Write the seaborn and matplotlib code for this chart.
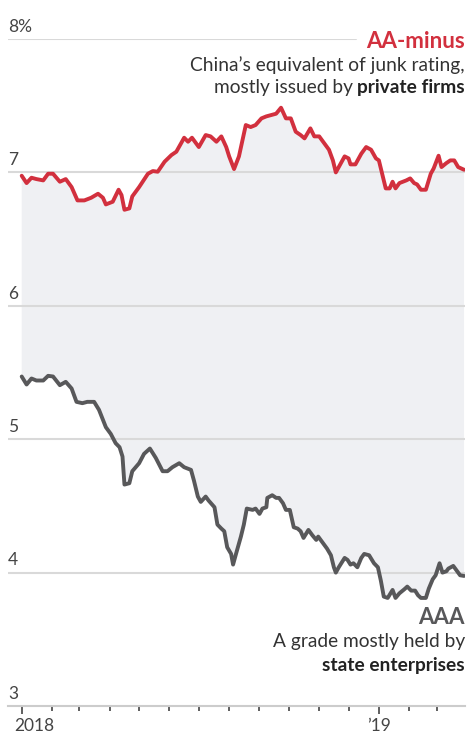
import matplotlib
matplotlib.use("Agg")
import matplotlib.pyplot as plt
import matplotlib.dates as mdates
import matplotlib.transforms as mtransforms
import numpy as np
import pandas as pd
import seaborn as sns

# ---------------- data ----------------
aa_dates = [
    "2018-01-01", "2018-01-06", "2018-01-11", "2018-01-16", "2018-01-23", "2018-01-28",
    "2018-02-02", "2018-02-09", "2018-02-15", "2018-02-21", "2018-02-27", "2018-03-06",
    "2018-03-13", "2018-03-20", "2018-03-25", "2018-03-28", "2018-04-04", "2018-04-10",
    "2018-04-13", "2018-04-16", "2018-04-21", "2018-04-24", "2018-05-01", "2018-05-10",
    "2018-05-15", "2018-05-20", "2018-05-27", "2018-06-03", "2018-06-08", "2018-06-13",
    "2018-06-16", "2018-06-20", "2018-06-24", "2018-07-01", "2018-07-08", "2018-07-13",
    "2018-07-19", "2018-07-24", "2018-07-29", "2018-08-01", "2018-08-06", "2018-08-11",
    "2018-08-18", "2018-08-23", "2018-08-28", "2018-09-03", "2018-09-08", "2018-09-13",
    "2018-09-18", "2018-09-23", "2018-09-28", "2018-10-03", "2018-10-08", "2018-10-13",
    "2018-10-17", "2018-10-23", "2018-10-27", "2018-11-01", "2018-11-06", "2018-11-11",
    "2018-11-15", "2018-11-18", "2018-11-21", "2018-11-27", "2018-12-01", "2018-12-03",
    "2018-12-08", "2018-12-14", "2018-12-19", "2018-12-24", "2018-12-29", "2019-01-01",
    "2019-01-05", "2019-01-08", "2019-01-12", "2019-01-15", "2019-01-18", "2019-01-22",
    "2019-01-29", "2019-02-02", "2019-02-06", "2019-02-09", "2019-02-13", "2019-02-18",
    "2019-02-23", "2019-02-26", "2019-03-03", "2019-03-06", "2019-03-11", "2019-03-15",
    "2019-03-19", "2019-03-23", "2019-03-29",
]
aa_minus = [
    6.975, 6.92, 6.96, 6.95, 6.94, 6.99,
    6.99, 6.93, 6.95, 6.89, 6.79, 6.79,
    6.81, 6.84, 6.81, 6.76, 6.78, 6.87,
    6.83, 6.72, 6.73, 6.82, 6.89, 6.99,
    7.01, 7.005, 7.08, 7.13, 7.155, 7.22,
    7.26, 7.23, 7.26, 7.19, 7.28, 7.27,
    7.23, 7.27, 7.19, 7.12, 7.025, 7.12,
    7.355, 7.34, 7.355, 7.405, 7.42, 7.43,
    7.44, 7.485, 7.405, 7.405, 7.305, 7.28,
    7.255, 7.33, 7.27, 7.27, 7.22, 7.17,
    7.09, 7.00, 7.04, 7.12, 7.105, 7.06,
    7.06, 7.14, 7.19, 7.17, 7.105, 7.09,
    6.97, 6.88, 6.88, 6.93, 6.88, 6.92,
    6.94, 6.955, 6.92, 6.91, 6.87, 6.87,
    6.99, 7.03, 7.125, 7.04, 7.07, 7.09,
    7.09, 7.04, 7.02,
]

aaa_dates = [
    "2018-01-01", "2018-01-06", "2018-01-11", "2018-01-16", "2018-01-23", "2018-01-28",
    "2018-02-02", "2018-02-09", "2018-02-15", "2018-02-21", "2018-02-26", "2018-03-04",
    "2018-03-09", "2018-03-16", "2018-03-21", "2018-03-28", "2018-04-02", "2018-04-07",
    "2018-04-11", "2018-04-14", "2018-04-16", "2018-04-21", "2018-04-24", "2018-05-01",
    "2018-05-06", "2018-05-12", "2018-05-18", "2018-05-25", "2018-05-30", "2018-06-04",
    "2018-06-11", "2018-06-16", "2018-06-23", "2018-06-26", "2018-06-30", "2018-07-03",
    "2018-07-08", "2018-07-11", "2018-07-17", "2018-07-20", "2018-07-24", "2018-07-27",
    "2018-07-30", "2018-08-03", "2018-08-05", "2018-08-08", "2018-08-13", "2018-08-16",
    "2018-08-19", "2018-08-25", "2018-08-28", "2018-09-01", "2018-09-04", "2018-09-08",
    "2018-09-09", "2018-09-14", "2018-09-18", "2018-09-21", "2018-09-25", "2018-09-28",
    "2018-10-02", "2018-10-06", "2018-10-10", "2018-10-13", "2018-10-16", "2018-10-21",
    "2018-10-25", "2018-10-29", "2018-10-31", "2018-11-04", "2018-11-09", "2018-11-13",
    "2018-11-16", "2018-11-18", "2018-11-21", "2018-11-27", "2018-11-30", "2018-12-03",
    "2018-12-06", "2018-12-10", "2018-12-14", "2018-12-17", "2018-12-22", "2018-12-27",
    "2018-12-31", "2019-01-03", "2019-01-06", "2019-01-10", "2019-01-15", "2019-01-18",
    "2019-01-22", "2019-01-27", "2019-01-30", "2019-02-03", "2019-02-07", "2019-02-10",
    "2019-02-13", "2019-02-18", "2019-02-21", "2019-02-25", "2019-02-28", "2019-03-04",
    "2019-03-07", "2019-03-11", "2019-03-13", "2019-03-18", "2019-03-21", "2019-03-25",
    "2019-03-29",
]
aaa = [
    5.47, 5.41, 5.455, 5.44, 5.44, 5.475,
    5.47, 5.405, 5.43, 5.38, 5.28, 5.27,
    5.28, 5.28, 5.22, 5.09, 5.04, 4.97,
    4.94, 4.87, 4.66, 4.67, 4.76, 4.82,
    4.89, 4.93, 4.86, 4.76, 4.76, 4.79,
    4.82, 4.79, 4.77, 4.69, 4.57, 4.53,
    4.57, 4.54, 4.49, 4.36, 4.33, 4.31,
    4.19, 4.14, 4.06, 4.14, 4.27, 4.36,
    4.48, 4.47, 4.48, 4.44, 4.48, 4.49,
    4.56, 4.58, 4.56, 4.56, 4.52, 4.47,
    4.47, 4.34, 4.33, 4.31, 4.26, 4.32,
    4.28, 4.245, 4.27, 4.23, 4.18, 4.13,
    4.04, 4.00, 4.04, 4.11, 4.095, 4.06,
    4.07, 4.04, 4.11, 4.14, 4.13, 4.07,
    4.04, 3.94, 3.82, 3.81, 3.87, 3.81,
    3.845, 3.875, 3.895, 3.865, 3.865, 3.83,
    3.81, 3.81, 3.88, 3.95, 3.98, 4.07,
    4.00, 4.01, 4.03, 4.05, 4.02, 3.98,
    3.975,
]

y_ticks = [3, 4, 5, 6, 7, 8]
y_tick_labels = ["3", "4", "5", "6", "7", "8%"]
x_label_text = ["2018", "\u201919"]

# ---------------- style ----------------
RED = "#d2303e"
GRAY = "#58585a"
FILL = "#eff0f3"
GRID = "#d9d9d9"
TEXT = "#333333"
DARK = "#222222"
FONT = ["Lato", "DejaVu Sans"]

sns.set_theme(style="white")
plt.rcParams["font.family"] = FONT

df_aa = pd.DataFrame({"date": pd.to_datetime(aa_dates), "yield": aa_minus})
df_aaa = pd.DataFrame({"date": pd.to_datetime(aaa_dates), "yield": aaa})

fig = plt.figure(figsize=(4.74, 7.45), dpi=100)
ax = fig.add_axes([8 / 474, 1 - 706 / 745, 457 / 474, (706 - 39) / 745])

# shaded band between the two series (polygon of both traces)
poly_x = np.concatenate([mdates.date2num(df_aa["date"]), mdates.date2num(df_aaa["date"])[::-1]])
poly_y = np.concatenate([df_aa["yield"].values, df_aaa["yield"].values[::-1]])
ax.fill(poly_x, poly_y, color=FILL, lw=0, zorder=1)

# gridlines
for v in y_ticks[1:]:
    xmax = (356 - 8) / 457 if v == 8 else 1.0
    ax.axhline(v, xmin=0, xmax=xmax, color=GRID, lw=1.5, zorder=2)

sns.lineplot(data=df_aa, x="date", y="yield", ax=ax, color=RED, lw=2.8,
             zorder=4, solid_capstyle="round", solid_joinstyle="round")
sns.lineplot(data=df_aaa, x="date", y="yield", ax=ax, color=GRAY, lw=2.8,
             zorder=4, solid_capstyle="round", solid_joinstyle="round")

ax.set_xlim(pd.Timestamp("2017-12-18"), pd.Timestamp("2019-03-30"))
ax.set_ylim(3, 8)
ax.set_xlabel("")
ax.set_ylabel("")
ax.set_facecolor("none")
for s in ["top", "right", "left"]:
    ax.spines[s].set_visible(False)
ax.spines["bottom"].set_color("#cccccc")
ax.spines["bottom"].set_linewidth(1.5)
ax.spines["bottom"].set_zorder(2)

# y labels above the gridlines
ax.set_yticks([])
for v, lab in zip(y_ticks, y_tick_labels):
    ax.annotate(lab, xy=(0, v), xycoords=("axes fraction", "data"),
                xytext=(0, 3), textcoords="offset points",
                ha="left", va="bottom", fontsize=12.5, color="#444444")

# x ticks
ax.xaxis.set_major_locator(mdates.YearLocator())
ax.xaxis.set_minor_locator(mdates.MonthLocator())
ax.set_xticks([pd.Timestamp("2018-01-01"), pd.Timestamp("2019-01-01")])
ax.set_xticklabels(x_label_text)
ax.tick_params(axis="x", which="major", length=5.5, width=1.2, color="#444444",
               labelsize=12.5, labelcolor="#444444", pad=3, bottom=True)
ax.tick_params(axis="x", which="minor", length=3.5, width=1.2, color="#444444", bottom=True)
labs = ax.get_xticklabels()
labs[0].set_horizontalalignment("left")
labs[0].set_transform(labs[0].get_transform() +
                      mtransforms.ScaledTranslation(-7 / 100, 0, fig.dpi_scale_trans))

# annotations
def right_label(y_px, parts, size):
    """parts: list of (text, weight, color) rendered right-to-left on one line."""
    x = 465 / 474
    y = 1 - y_px / 745
    prev = None
    for text, weight, color in reversed(parts):
        if prev is None:
            prev = fig.text(x, y, text, ha="right", va="center", fontsize=size,
                            fontweight=weight, color=color, family=FONT)
        else:
            prev = ax.annotate(text, xy=(0, 0), xycoords=prev, ha="right", va="bottom",
                               fontsize=size, fontweight=weight, color=color, family=FONT,
                               annotation_clip=False)

right_label(42, [("AA-minus", "bold", RED)], 16)
right_label(65, [("China\u2019s equivalent of junk rating,", "normal", TEXT)], 13.8)
right_label(88, [("mostly issued by ", "normal", TEXT), ("private firms", "bold", DARK)], 13.8)

right_label(618, [("AAA", "bold", GRAY)], 16)
right_label(642, [("A grade mostly held by", "normal", TEXT)], 13.8)
right_label(665, [("state enterprises", "bold", DARK)], 13.8)

fig.savefig("out.png", dpi=100)
